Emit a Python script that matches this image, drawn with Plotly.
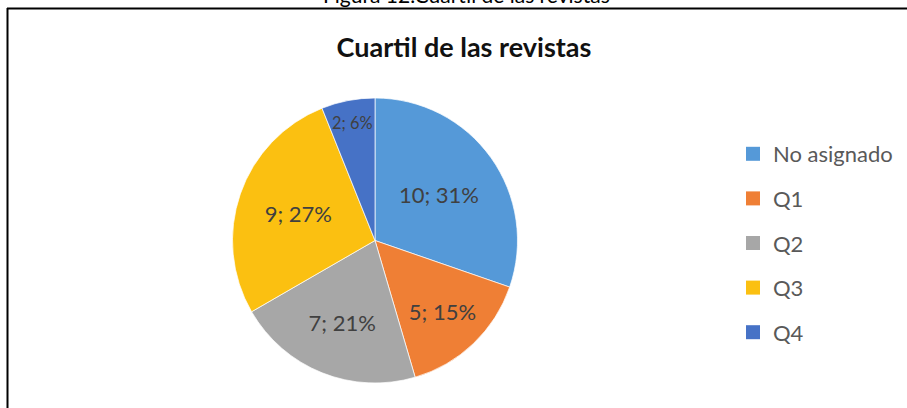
import plotly.graph_objects as go

categories = ["No asignado", "Q1", "Q2", "Q3", "Q4"]
counts = [10, 5, 7, 9, 2]
percent_labels = ["31%", "15%", "21%", "27%", "6%"]
colors = ["#5599D8", "#EF7F35", "#A7A7A7", "#FBC011", "#4672C6"]

W, H = 907, 408
FONT = "Lato"

fig = go.Figure()

fig.add_trace(go.Pie(
    labels=categories,
    values=counts,
    text=percent_labels,
    texttemplate="%{value}; %{text}",
    textposition="inside",
    insidetextorientation="horizontal",
    textfont=dict(family=FONT, size=22, color="#404040"),
    marker=dict(colors=colors, line=dict(color="rgba(255,255,255,0.7)", width=1)),
    sort=False,
    direction="clockwise",
    rotation=0,
    showlegend=False,
    hoverinfo="label+value+percent",
    domain=dict(x=[232 / W, 518 / W], y=[25 / H, 310 / H]),
))

# legend entries (one per category)
for name, col in zip(categories, colors):
    fig.add_trace(go.Scatter(
        x=[None], y=[None], mode="markers", name=name, legendgroup=name,
        marker=dict(symbol="square", size=14, color=col),
    ))

fig.update_layout(
    width=W, height=H,
    margin=dict(l=0, r=0, t=0, b=0),
    paper_bgcolor="white", plot_bgcolor="white",
    xaxis=dict(visible=False), yaxis=dict(visible=False),
    title=dict(text="<b>Cuartil de las revistas</b>", x=464 / W, xanchor="center",
               y=1 - 48 / H, yanchor="middle",
               font=dict(family=FONT, size=27, color="#111111")),
    legend=dict(x=733 / W, xanchor="left", y=1 - 133 / H, yanchor="top",
                font=dict(family=FONT, size=22, color="#595959"),
                tracegroupgap=13, bgcolor="rgba(0,0,0,0)"),
    showlegend=True,
    annotations=[dict(text="Figura 12.Cuartil de las revistas", xref="paper", yref="paper",
                      x=466 / W, y=1 - 9 / H, xanchor="center", yanchor="bottom",
                      showarrow=False, font=dict(family=FONT, size=21, color="#000000"))],
    shapes=[
        dict(type="line", xref="paper", yref="paper", x0=7 / W, x1=1, y0=1 - 8.5 / H, y1=1 - 8.5 / H,
             line=dict(color="black", width=2)),
        dict(type="line", xref="paper", yref="paper", x0=7.5 / W, x1=7.5 / W, y0=0, y1=1 - 8 / H,
             line=dict(color="black", width=2)),
    ],
)

fig.write_html("out.html", config={"displayModeBar": False},
               post_script="document.body.style.margin='0px';")
